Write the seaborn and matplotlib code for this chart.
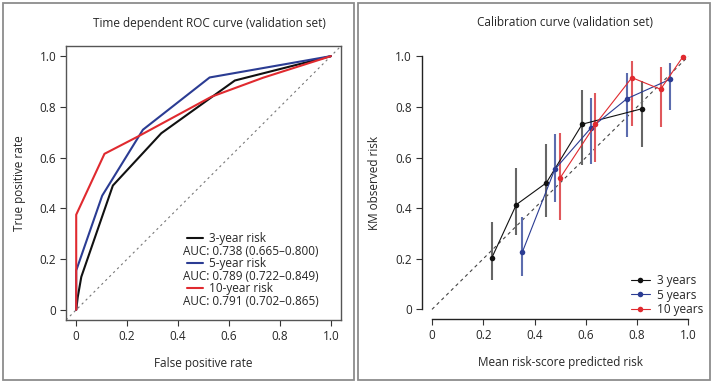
import seaborn as sns
import matplotlib.pyplot as plt
import pandas as pd
from matplotlib.patches import Rectangle
from matplotlib.lines import Line2D

# ROC curves (validation set)
fpr_3y = [0, 0.006, 0.02, 0.144, 0.334, 0.623, 1.0]
tpr_3y = [0, 0.05, 0.13, 0.49, 0.696, 0.904, 1.0]
fpr_5y = [0, 0, 0.102, 0.262, 0.524, 1.0]
tpr_5y = [0, 0.155, 0.45, 0.71, 0.916, 1.0]
fpr_10y = [0, 0, 0.111, 0.242, 0.531, 0.734, 1.0]
tpr_10y = [0, 0.375, 0.615, 0.683, 0.84, 0.915, 1.0]
roc_labels = ['3-year risk', '5-year risk', '10-year risk']
auc_labels = ['AUC: 0.738 (0.665\u20130.800)',
              'AUC: 0.789 (0.722\u20130.849)',
              'AUC: 0.791 (0.702\u20130.865)']

# calibration curve (validation set)
pred_3y = [0.234, 0.329, 0.446, 0.586, 0.819]
obs_3y = [0.205, 0.414, 0.5, 0.732, 0.793]
lo_3y = [0.116, 0.292, 0.366, 0.572, 0.642]
hi_3y = [0.346, 0.56, 0.655, 0.868, 0.903]
pred_5y = [0.352, 0.479, 0.62, 0.761, 0.928]
obs_5y = [0.225, 0.553, 0.717, 0.833, 0.909]
lo_5y = [0.132, 0.424, 0.574, 0.682, 0.787]
hi_5y = [0.366, 0.692, 0.837, 0.934, 0.974]
pred_10y = [0.499, 0.638, 0.78, 0.892, 0.978]
obs_10y = [0.518, 0.732, 0.916, 0.87, 0.997]
lo_10y = [0.353, 0.583, 0.726, 0.721, 0.987]
hi_10y = [0.699, 0.855, 0.98, 0.958, 1.004]
cal_labels = ['3 years', '5 years', '10 years']

ticks = [0, 0.2, 0.4, 0.6, 0.8, 1.0]
tick_labels = ['0', '0.2', '0.4', '0.6', '0.8', '1.0']

colors = ['#111111', '#2b3c93', '#e02a2f']
bar_colors = ['#666666', '#5c6cae', '#e0585c']

sns.set_style('white')
plt.rcParams['font.family'] = ['Open Sans', 'DejaVu Sans']
plt.rcParams['font.size'] = 8.5

fig = plt.figure(figsize=(7.13, 3.84), dpi=100)
ax1 = fig.add_axes([0.0926, 0.1667, 0.3857, 0.7135])
ax2 = fig.add_axes([0.5915, 0.168, 0.3882, 0.7115])

# panel frames
for x0, w in [(0.004, 0.492), (0.502, 0.494)]:
    fig.patches.append(Rectangle((x0, 0.01), w, 0.982, transform=fig.transFigure,
                                 fill=False, edgecolor='#8c8c8c', lw=1.3))

# ---- left: ROC ----
roc = pd.concat([
    pd.DataFrame({'fpr': f, 'tpr': t, 'grp': g})
    for f, t, g in zip([fpr_3y, fpr_5y, fpr_10y], [tpr_3y, tpr_5y, tpr_10y], roc_labels)
])
ax1.axline((0, 0), slope=1, color='#777777', lw=0.8, ls=(0, (2, 3)))
sns.lineplot(data=roc, x='fpr', y='tpr', hue='grp', palette=colors, estimator=None,
             sort=False, lw=1.5, legend=False, ax=ax1)
ax1.set_xlim(-0.04, 1.04)
ax1.set_ylim(-0.04, 1.04)
for s in ax1.spines.values():
    s.set_color('#555555')
    s.set_linewidth(1.0)

# legend drawn by hand (R style, AUC on its own row)
for i, (lab, auc, c) in enumerate(zip(roc_labels, auc_labels, colors)):
    yy = 0.298 - i * 0.091
    ax1.add_line(Line2D([0.44, 0.498], [yy, yy], transform=ax1.transAxes, color=c, lw=1.5))
    ax1.text(0.52, yy, lab, transform=ax1.transAxes, va='center', ha='left')
    ax1.text(0.427, yy - 0.047, auc, transform=ax1.transAxes, va='center', ha='left')

# ---- right: calibration ----
cal = pd.concat([
    pd.DataFrame({'pred': p, 'obs': o, 'grp': g})
    for p, o, g in zip([pred_3y, pred_5y, pred_10y], [obs_3y, obs_5y, obs_10y], cal_labels)
])
ax2.plot([0, 1], [0, 1], color='#444444', lw=0.8, ls=(0, (3, 3)))
for p, lo, hi, c in zip([pred_3y, pred_5y, pred_10y], [lo_3y, lo_5y, lo_10y],
                        [hi_3y, hi_5y, hi_10y], bar_colors):
    ax2.vlines(p, lo, hi, colors=c, lw=1.5)
sns.lineplot(data=cal, x='pred', y='obs', hue='grp', palette=colors, estimator=None,
             sort=False, lw=0.8, marker='o', markersize=4, markeredgewidth=0, ax=ax2)
h, l = ax2.get_legend_handles_labels()
ax2.legend(h, l, loc='lower right', bbox_to_anchor=(1.055, -0.025), frameon=False,
           handlelength=1.6, handletextpad=0.6, labelspacing=0.1, fontsize=8.5)
ax2.set_xlim(-0.04, 1.04)
ax2.set_ylim(-0.04, 1.04)
sns.despine(ax=ax2)
ax2.spines['left'].set_bounds(0, 1)
ax2.spines['bottom'].set_bounds(0, 1)
for s in ['left', 'bottom']:
    ax2.spines[s].set_color('#222222')
    ax2.spines[s].set_linewidth(1.0)

for ax in (ax1, ax2):
    ax.set_xticks(ticks)
    ax.set_xticklabels(tick_labels)
    ax.set_yticks(ticks)
    ax.set_yticklabels(tick_labels)
    ax.tick_params(direction='out', length=4, width=0.8, color='#333333',
                   left=True, bottom=True, labelsize=8.5, pad=3)
    ax.set_xlabel('')
    ax.set_ylabel('')

ax1.set_xlabel('False positive rate', labelpad=10)
ax1.set_ylabel('True positive rate', labelpad=10)
ax2.set_xlabel('Mean risk-score predicted risk', labelpad=10)
ax2.set_ylabel('KM observed risk', labelpad=10)
fig.text(209 / 713, 1 - 23 / 384, 'Time dependent ROC curve (validation set)',
         ha='center', va='center', fontsize=8.5)
fig.text(565 / 713, 1 - 23 / 384, 'Calibration curve (validation set)',
         ha='center', va='center', fontsize=8.5)

fig.savefig('out.png', dpi=100)
